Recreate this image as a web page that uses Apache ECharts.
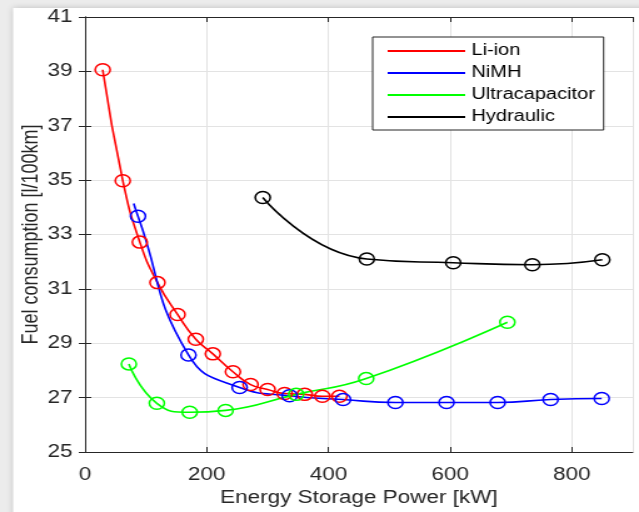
<!DOCTYPE html>
<html>
<head>
<meta charset="utf-8">
<script src="https://cdn.jsdelivr.net/npm/echarts@6/dist/echarts.min.js"></script>
<style>
  html, body { margin: 0; padding: 0; background: #ffffff; overflow: hidden; }
  /* the figure is laid out narrow and stretched sideways, like the exported figure */
  #chart { width: 511px; height: 512px; transform: scaleX(1.2505); transform-origin: 0 0; }
</style>
</head>
<body>
<div id="chart"></div>
<script>
// Energy storage power [kW] and fuel consumption [l/100km] per storage technology
const seriesNames = ['Li-ion', 'NiMH', 'Ultracapacitor', 'Hydraulic'];

const liIonPower = [29, 62, 90, 119, 152, 182, 210, 243, 272, 300, 328, 361, 390, 418];
const liIonFuel  = [39.06, 34.98, 32.72, 31.23, 30.06, 29.15, 28.61, 27.95, 27.48, 27.30, 27.15, 27.12, 27.05, 27.05];

const nimhPower = [87, 170, 254, 336, 424, 510, 594, 678, 765, 849];
const nimhFuel  = [33.67, 28.57, 27.37, 27.07, 26.93, 26.82, 26.82, 26.82, 26.93, 26.97];
// fitted NiMH curve starts slightly ahead of its first measured point
const nimhCurveStart = [80, 34.14];

const ultracapPower = [72, 118, 172, 231, 347, 462, 694];
const ultracapFuel  = [28.24, 26.79, 26.46, 26.53, 27.12, 27.70, 29.77];

const hydraulicPower = [292, 463, 605, 735, 850];
const hydraulicFuel  = [34.36, 32.10, 31.96, 31.89, 32.07];

const xTicks = { min: 0, max: 900, step: 200 };
const yTicks = { min: 25, max: 41, step: 2 };

const colors = ['#ff0000', '#0000ff', '#00ff00', '#000000'];
const axisColor = '#262626';
const gridColor = '#e3e3e3';
const font = "'Liberation Sans', Arial, Helvetica, sans-serif";

function pairs(xs, ys) { return xs.map((x, i) => [x, ys[i]]); }

function curve(name, color, data) {
  return {
    name: name,
    type: 'line',
    smooth: 0.5,
    data: data,
    symbol: 'circle',
    symbolSize: 12,
    showSymbol: true,
    lineStyle: { color: color, width: 1.6 },
    itemStyle: { color: 'rgba(255,255,255,0)', borderColor: color, borderWidth: 1.5 },
    emphasis: { disabled: true },
    z: 3
  };
}

const nimhData = [{ value: nimhCurveStart, symbol: 'none' }].concat(pairs(nimhPower, nimhFuel));

const chart = echarts.init(document.getElementById('chart'), null, { renderer: 'canvas' });

chart.setOption({
  animation: false,
  backgroundColor: '#ececec',
  textStyle: { fontFamily: font },
  graphic: [{
    type: 'rect',
    z: -10,
    silent: true,
    shape: { x: 10.5, y: 8, width: 520, height: 520 },
    style: { fill: '#ffffff', shadowBlur: 6, shadowColor: 'rgba(0,0,0,0.2)' }
  }],
  grid: { left: 68, right: 5, top: 17, bottom: 56, containLabel: false },
  legend: {
    orient: 'vertical',
    left: 298,
    top: 37,
    padding: [5, 7, 4, 12],
    itemGap: 4,
    itemWidth: 62,
    itemHeight: 2,
    icon: 'rect',
    backgroundColor: '#ffffff',
    borderColor: axisColor,
    borderWidth: 1,
    selectedMode: false,
    textStyle: { color: '#000000', fontSize: 16, lineHeight: 18, fontFamily: font },
    data: seriesNames.map((n, i) => ({ name: n, itemStyle: { color: colors[i], borderWidth: 0 } }))
  },
  xAxis: [{
    type: 'value',
    min: xTicks.min, max: xTicks.max, interval: xTicks.step,
    name: 'Energy Storage Power [kW]',
    nameLocation: 'middle',
    nameGap: 37,
    nameMoveOverlap: false,
    nameTextStyle: { color: axisColor, fontSize: 18, fontFamily: font },
    axisLine: { show: true, lineStyle: { color: axisColor, width: 1 } },
    axisTick: { show: true, inside: true, length: 5, lineStyle: { color: axisColor } },
    axisLabel: { color: axisColor, fontSize: 18, margin: 14, showMaxLabel: false, fontFamily: font },
    splitLine: { show: true, lineStyle: { color: gridColor, width: 1 } }
  }, {
    type: 'value', position: 'top',
    min: xTicks.min, max: xTicks.max, interval: xTicks.step,
    axisLine: { show: true, lineStyle: { color: axisColor, width: 1 } },
    axisTick: { show: true, inside: true, length: 5, lineStyle: { color: axisColor } },
    axisLabel: { show: false },
    splitLine: { show: false }
  }],
  yAxis: [{
    type: 'value',
    min: yTicks.min, max: yTicks.max, interval: yTicks.step,
    name: 'Fuel consumption [l/100km]',
    nameLocation: 'middle',
    nameRotate: 90,
    nameGap: 34,
    nameMoveOverlap: false,
    nameTextStyle: { color: axisColor, fontSize: 18, fontFamily: font },
    axisLine: { show: true, lineStyle: { color: axisColor, width: 1 } },
    axisTick: { show: true, inside: true, length: 5, lineStyle: { color: axisColor } },
    axisLabel: { color: axisColor, fontSize: 18, margin: 10, fontFamily: font },
    splitLine: { show: true, lineStyle: { color: gridColor, width: 1 } }
  }, {
    type: 'value', position: 'right',
    min: yTicks.min, max: yTicks.max, interval: yTicks.step,
    axisLine: { show: true, lineStyle: { color: axisColor, width: 1 } },
    axisTick: { show: true, inside: true, length: 5, lineStyle: { color: axisColor } },
    axisLabel: { show: false },
    splitLine: { show: false }
  }],
  series: [
    curve(seriesNames[0], colors[0], pairs(liIonPower, liIonFuel)),
    curve(seriesNames[1], colors[1], nimhData),
    curve(seriesNames[2], colors[2], pairs(ultracapPower, ultracapFuel)),
    curve(seriesNames[3], colors[3], pairs(hydraulicPower, hydraulicFuel))
  ]
});
</script>
</body>
</html>
